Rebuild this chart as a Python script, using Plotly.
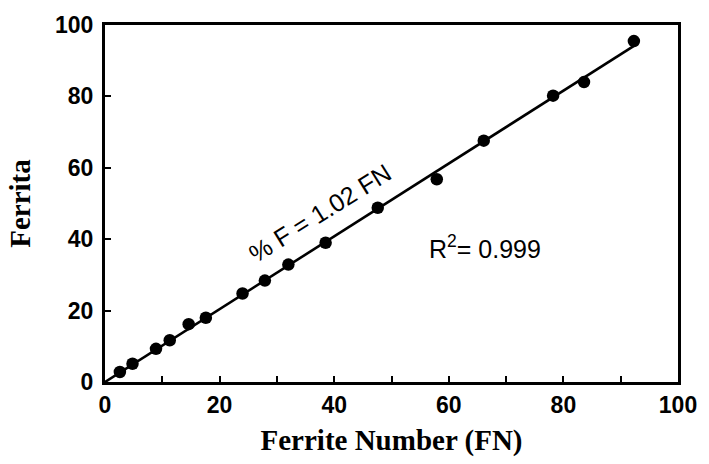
import plotly.graph_objects as go

# Measured ferrite content vs. Ferrite Number
fn_values = [2.6, 4.8, 8.9, 11.3, 14.6, 17.6, 24.0, 27.9, 32.0, 38.5,
             47.6, 57.9, 66.1, 78.2, 83.6, 92.3]
ferrite_pct = [2.8, 5.1, 9.3, 11.7, 16.2, 18.0, 24.8, 28.4, 32.9, 39.0,
               48.8, 56.8, 67.6, 80.2, 84.0, 95.5]

# Linear fit through the origin
fit_slope = 1.02
fit_x = [0, 93]
fit_y = [fit_slope * x for x in fit_x]

x_ticks = [0, 20, 40, 60, 80, 100]
y_ticks = [0, 20, 40, 60, 80, 100]

SANS = "Liberation Sans, Arial, Helvetica, sans-serif"
SERIF = "Liberation Serif, Times New Roman, serif"

fig = go.Figure()
fig.add_trace(go.Scatter(
    x=fit_x, y=fit_y, mode="lines",
    line=dict(color="black", width=2.6),
    showlegend=False, hoverinfo="skip",
))
fig.add_trace(go.Scatter(
    x=fn_values, y=ferrite_pct, mode="markers",
    marker=dict(color="black", size=12.5, symbol="circle"),
    showlegend=False,
))

fig.add_annotation(
    x=37.5, y=47.3, xref="x", yref="y",
    text="% F = 1.02 FN", showarrow=False, textangle=-32,
    font=dict(family=SANS, size=25, color="black"),
)
fig.add_annotation(
    x=66.4, y=37.7, xref="x", yref="y",
    text="R<sup>2</sup>= 0.999", showarrow=False,
    font=dict(family=SANS, size=25, color="black"),
)

fig.update_xaxes(
    range=[0, 100], tickvals=x_ticks, ticktext=[str(v) for v in x_ticks],
    ticks="inside", ticklen=6, tickwidth=2, tickcolor="black",
    minor=dict(dtick=10, tick0=0, ticks="inside", ticklen=6, tickwidth=2, tickcolor="black"),
    showline=True, linewidth=3, linecolor="black", mirror=True,
    showgrid=False, zeroline=False,
    tickfont=dict(family=SANS, size=23, color="black", weight="bold"),
    title=dict(text="Ferrite Number (FN)", standoff=14,
               font=dict(family=SERIF, size=29, color="black", weight="bold")),
)
fig.update_yaxes(
    range=[0, 100], tickvals=y_ticks, ticktext=[str(v) for v in y_ticks],
    ticks="inside", ticklen=6, tickwidth=2, tickcolor="black",
    ticklabelstandoff=4,
    showline=True, linewidth=3, linecolor="black", mirror=True,
    showgrid=False, zeroline=False,
    tickfont=dict(family=SANS, size=23, color="black", weight="bold"),
    title=dict(text="Ferrita", standoff=16,
               font=dict(family=SERIF, size=29, color="black", weight="bold")),
)

fig.update_layout(
    width=709, height=464,
    margin=dict(l=105, r=20, t=23, b=79),
    paper_bgcolor="white", plot_bgcolor="white",
)

fig.write_html("out.html")
